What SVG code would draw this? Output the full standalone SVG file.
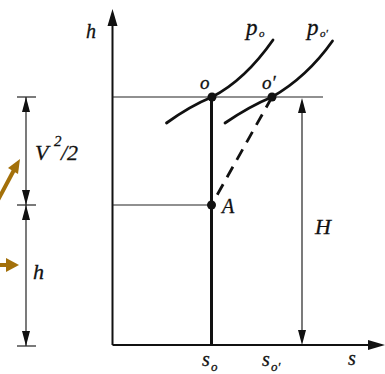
<svg xmlns="http://www.w3.org/2000/svg" width="385" height="374" viewBox="0 0 385 374">
<style>
.t{font-family:"Liberation Serif","DejaVu Serif","Times New Roman",serif;font-style:italic;fill:#111;stroke:#111;stroke-width:0.3}
.thin{stroke:#222;stroke-width:1.2;fill:none}
.ax{stroke:#111;stroke-width:2;fill:none}
.cv{stroke:#111;stroke-width:2.8;fill:none;stroke-linecap:round}
.ah{fill:#111}
.or{fill:#A3700A}
</style>
<rect width="385" height="374" fill="#fff"/>
<g id="connectors">
  <line class="ax" x1="112.5" y1="345" x2="112.5" y2="22"/>
  <polygon class="ah" points="112.5,9 107.5,26 117.5,26"/>
  <line class="ax" x1="112.5" y1="345" x2="372" y2="345"/>
  <polygon class="ah" points="385,345 368,340 368,350"/>
  <line class="thin" x1="112.5" y1="97" x2="323" y2="97"/>
  <line class="thin" x1="112.5" y1="205" x2="211.5" y2="205"/>
  <line x1="211.5" y1="97" x2="211.5" y2="345" stroke="#111" stroke-width="3"/>
  <line x1="272" y1="97" x2="211.5" y2="205" stroke="#111" stroke-width="2.8" stroke-dasharray="12,8"/>
  <line class="thin" x1="302" y1="110" x2="302" y2="332"/>
  <polygon class="ah" points="302,98 298,113 306,113"/>
  <polygon class="ah" points="302,345 298,330 306,330"/>
  <line class="thin" x1="26" y1="97" x2="26" y2="346"/>
  <line class="thin" x1="17" y1="97" x2="36" y2="97"/>
  <line class="thin" x1="17" y1="205" x2="36" y2="205"/>
  <line class="thin" x1="17" y1="346" x2="36" y2="346"/>
  <polygon class="ah" points="26,97 22,112 30,112"/>
  <polygon class="ah" points="26,205 22,190 30,190"/>
  <polygon class="ah" points="26,205 22,220 30,220"/>
  <polygon class="ah" points="26,346 22,331 30,331"/>
  <line x1="-2" y1="200" x2="14" y2="170" stroke="#A3700A" stroke-width="4"/>
  <polygon class="or" points="20,159 8,168 18,174"/>
  <line x1="0" y1="265" x2="8" y2="265" stroke="#A3700A" stroke-width="4"/>
  <polygon class="or" points="19,265 6,258 6,272"/>
</g>
<g id="curve-po">
  <path class="cv" d="M166.5,123 Q190,106 212,97 Q245,80 273,40"/>
  <text class="t" x="246" y="35" font-size="23">p</text>
  <text class="t" x="259" y="37" font-size="11">o</text>
</g>
<g id="curve-po1">
  <path class="cv" d="M225,123 Q250,106 272,97 Q307,77 332.5,41"/>
  <text class="t" x="307" y="35" font-size="23">p</text>
  <text class="t" x="320" y="37" font-size="11">o′</text>
</g>
<g id="node-o">
  <circle cx="212" cy="97" r="4.5" fill="#111"/>
  <text class="t" x="200" y="89" font-size="19">o</text>
</g>
<g id="node-o1">
  <circle cx="272" cy="97" r="4.5" fill="#111"/>
  <text class="t" x="262" y="89" font-size="19">o′</text>
</g>
<g id="node-A">
  <circle cx="211.5" cy="205" r="4.5" fill="#111"/>
  <text class="t" x="222" y="213" font-size="20">A</text>
</g>
<g id="labels">
  <text class="t" x="86" y="38" font-size="20">h</text>
  <text class="t" x="348" y="365" font-size="20">s</text>
  <text class="t" x="202" y="366" font-size="20">s</text>
  <text class="t" x="211" y="371" font-size="13">o</text>
  <text class="t" x="262" y="366" font-size="20">s</text>
  <text class="t" x="271" y="371" font-size="13">o′</text>
  <text class="t" x="315" y="234" font-size="22">H</text>
  <text class="t" x="35" y="160" font-size="22">V</text>
  <text class="t" x="54" y="146" font-size="15">2</text>
  <text class="t" x="61" y="160" font-size="22">/2</text>
  <text class="t" x="33" y="279" font-size="22">h</text>
</g>
</svg>
